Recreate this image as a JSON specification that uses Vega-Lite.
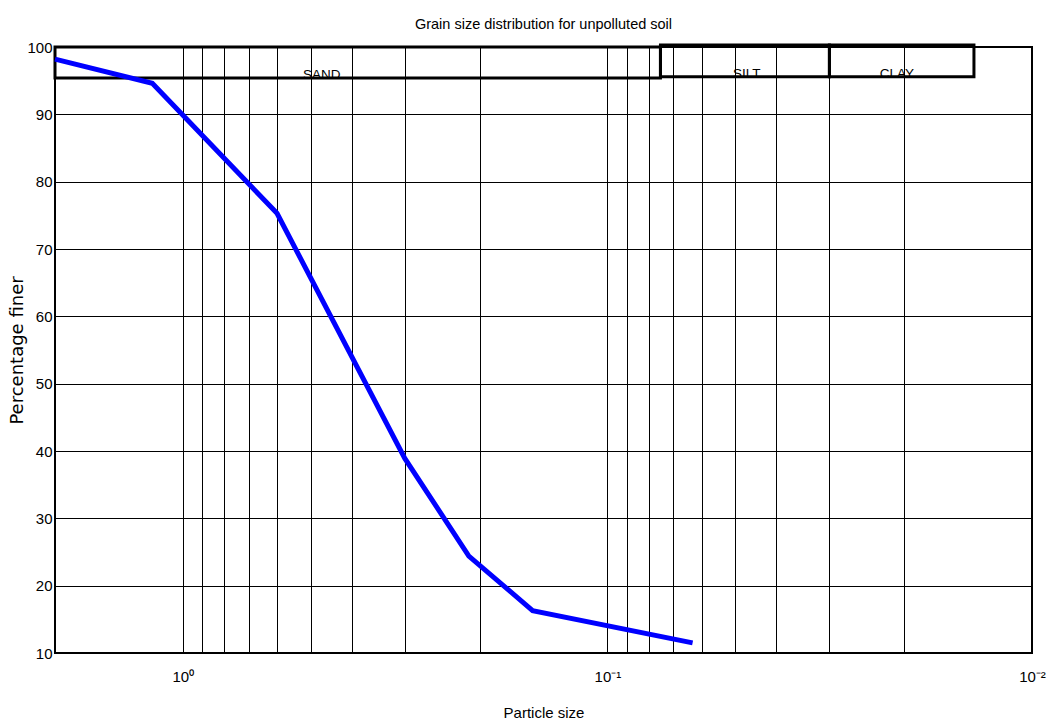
{
  "$schema": "https://vega.github.io/schema/vega-lite/v6.json",
  "width": 977,
  "height": 606,
  "autosize": {"type": "none"},
  "padding": {"left": 55, "top": 47, "right": 20, "bottom": 70},
  "background": "white",
  "title": {
    "text": "Grain size distribution for unpolluted soil",
    "font": "Liberation Sans Narrow, Liberation Sans, Arial",
    "fontSize": 14.5,
    "fontWeight": "normal",
    "color": "black",
    "frame": "group",
    "anchor": "middle",
    "offset": 8
  },
  "config": {
    "view": {"stroke": "black", "strokeWidth": 2},
    "axis": {
      "labelFont": "Liberation Sans Narrow, Liberation Sans, Arial",
      "labelFontSize": 15,
      "labelColor": "black",
      "titleColor": "black",
      "titleFontWeight": "normal",
      "grid": true,
      "gridColor": "black",
      "gridOpacity": 1,
      "gridWidth": 1,
      "ticks": false,
      "tickSize": 0,
      "domain": false,
      "labelFlush": false,
      "labelOverlap": false
    }
  },
  "datasets": {
    "curve": [
      {"size": 2.0, "finer": 98.2},
      {"size": 1.18, "finer": 94.6},
      {"size": 0.6, "finer": 75.3},
      {"size": 0.3, "finer": 38.9},
      {"size": 0.212, "finer": 24.4},
      {"size": 0.15, "finer": 16.3},
      {"size": 0.063, "finer": 11.5}
    ],
    "zones": [
      {"zone": "SAND", "from": 2.0, "to": 0.075, "lo": 95.4, "hi": 100, "mid": 0.471},
      {"zone": "SILT", "from": 0.075, "to": 0.03, "lo": 95.6, "hi": 100.3, "mid": 0.047},
      {"zone": "CLAY", "from": 0.03, "to": 0.0137, "lo": 95.6, "hi": 100.3, "mid": 0.0208}
    ]
  },
  "layer": [
    {
      "data": {"name": "zones"},
      "mark": {"type": "rect", "fill": "white", "fillOpacity": 0, "stroke": "black", "strokeWidth": 3},
      "encoding": {
        "x": {"field": "from", "type": "quantitative", "scale": {"type": "log", "domain": [0.01, 2], "reverse": true, "nice": false}},
        "x2": {"field": "to"},
        "y": {"field": "lo", "type": "quantitative", "scale": {"domain": [10, 100], "nice": false, "zero": false}},
        "y2": {"field": "hi"}
      }
    },
    {
      "data": {"name": "zones"},
      "mark": {"type": "text", "font": "Liberation Sans Narrow, Liberation Sans, Arial", "fontSize": 13.5, "color": "black", "align": "center", "baseline": "alphabetic", "dy": 1},
      "encoding": {
        "x": {"field": "mid", "type": "quantitative"},
        "y": {"field": "lo", "type": "quantitative"},
        "text": {"field": "zone"}
      }
    },
    {
      "data": {"name": "curve"},
      "mark": {"type": "line", "color": "#0000ff", "strokeWidth": 5},
      "encoding": {
        "x": {
          "field": "size",
          "type": "quantitative",
          "scale": {"type": "log", "domain": [0.01, 2], "reverse": true, "nice": false},
          "axis": {
            "values": [1, 0.9, 0.8, 0.7, 0.6, 0.5, 0.4, 0.3, 0.2, 0.1, 0.09, 0.08, 0.07, 0.06, 0.05, 0.04, 0.03, 0.02, 0.01],
            "labelExpr": "datum.value == 1 ? '10⁰' : datum.value == 0.1 ? '10⁻¹' : datum.value == 0.01 ? '10⁻²' : ''",
            "labelPadding": 16,
            "title": "Particle size",
            "titleFont": "Liberation Sans Narrow, Liberation Sans, Arial",
            "titleFontSize": 15,
            "titleY": 59,
            "titleBaseline": "middle"
          }
        },
        "y": {
          "field": "finer",
          "type": "quantitative",
          "scale": {"domain": [10, 100], "nice": false, "zero": false},
          "axis": {
            "values": [10, 20, 30, 40, 50, 60, 70, 80, 90, 100],
            "labelPadding": 3,
            "title": "Percentage finer",
            "titleFont": "DejaVu Sans",
            "titleFontSize": 18,
            "titleX": -38,
            "titleY": 303,
            "titleAngle": -90,
            "titleAlign": "center",
            "titleBaseline": "middle"
          }
        }
      }
    }
  ]
}
